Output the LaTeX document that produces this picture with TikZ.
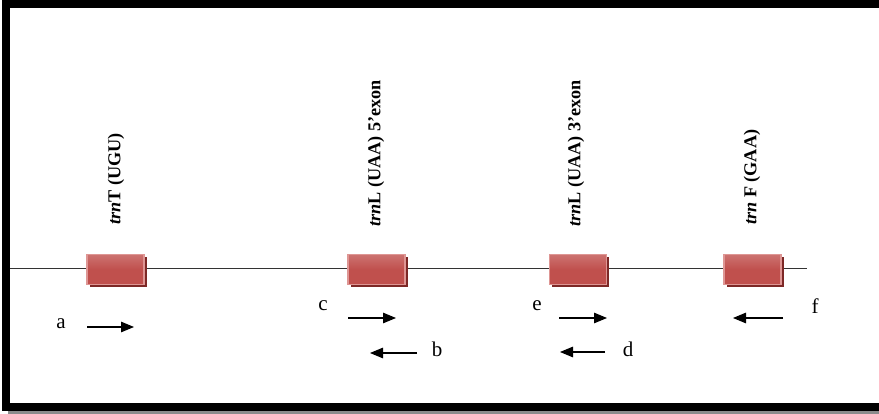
\documentclass[tikz,border=0pt]{standalone}
\usepackage{fontspec}
\setmainfont{Liberation Serif}
\usetikzlibrary{arrows.meta,shadows}
\definecolor{boxred}{RGB}{192,80,77}
\definecolor{boxedge}{RGB}{222,150,148}
\definecolor{boxshadow}{RGB}{125,40,38}
\tikzset{
  gene/.style={draw=boxedge, line width=1.2pt, top color=boxred!80!white, bottom color=boxred,
    middle color=boxred, minimum width=57pt, minimum height=30pt, inner sep=0pt,
    drop shadow={shadow xshift=2.5pt, shadow yshift=-3pt, fill=boxshadow, opacity=1}},
  genelabel/.style={rotate=90, anchor=west, font=\fontsize{18.2}{20}\selectfont\bfseries, inner sep=0pt},
  primer/.style={font=\fontsize{21}{23}\selectfont, inner sep=0pt},
  parrow/.style={line width=1.2pt, -{Triangle[length=13pt,width=10.5pt]}}
}
\begin{document}
\begin{tikzpicture}[x=1pt,y=-1pt]
\useasboundingbox (0,0) rectangle (879,414);
% frame
\fill[black!45] (8,411) rectangle (879,414);
\fill[black] (2,0) rectangle (879,411);
\fill[white] (10,8) rectangle (879,403);
% backbone
\coordinate (ls) at (10,268);
\coordinate (le) at (807,268);
\draw[line width=0.9pt, black!80] (ls) -- (le);
% genes
\node[gene] (g1) at (115.5,269.5) {};
\node[gene] (g2) at (376.5,269.5) {};
\node[gene] (g3) at (578,269.5) {};
\node[gene] (g4) at (752.5,269.5) {};
% gene labels
\node[genelabel] (t1) at (116,225) {\textit{trn}T (UGU)};
\node[genelabel] (t2) at (376,227) {\textit{trn}L (UAA) 5’exon};
\node[genelabel] (t3) at (576,227) {\textit{trn}L (UAA) 3’exon};
\node[genelabel] (t4) at (752,225) {\textit{trn} F (GAA)};
% primers
\node[primer] (la) at (61,324) {a};
\node[primer] (lc) at (323,306) {c};
\node[primer] (lb) at (437,349) {b};
\node[primer] (le2) at (537,306) {e};
\node[primer] (ld) at (628,349) {d};
\node[primer] (lf) at (815,306) {f};
\coordinate (a1) at (87,327); \coordinate (a2) at (134,327);
\coordinate (c1) at (348,318); \coordinate (c2) at (396,318);
\coordinate (b1) at (417,353); \coordinate (b2) at (370,353);
\coordinate (e1) at (559,318); \coordinate (e2) at (607,318);
\coordinate (d1) at (605,352); \coordinate (d2) at (560,352);
\coordinate (f1) at (783,318); \coordinate (f2) at (733,318);
\draw[parrow] (a1) -- (a2);
\draw[parrow] (c1) -- (c2);
\draw[parrow] (b1) -- (b2);
\draw[parrow] (e1) -- (e2);
\draw[parrow] (d1) -- (d2);
\draw[parrow] (f1) -- (f2);
\end{tikzpicture}
\end{document}
